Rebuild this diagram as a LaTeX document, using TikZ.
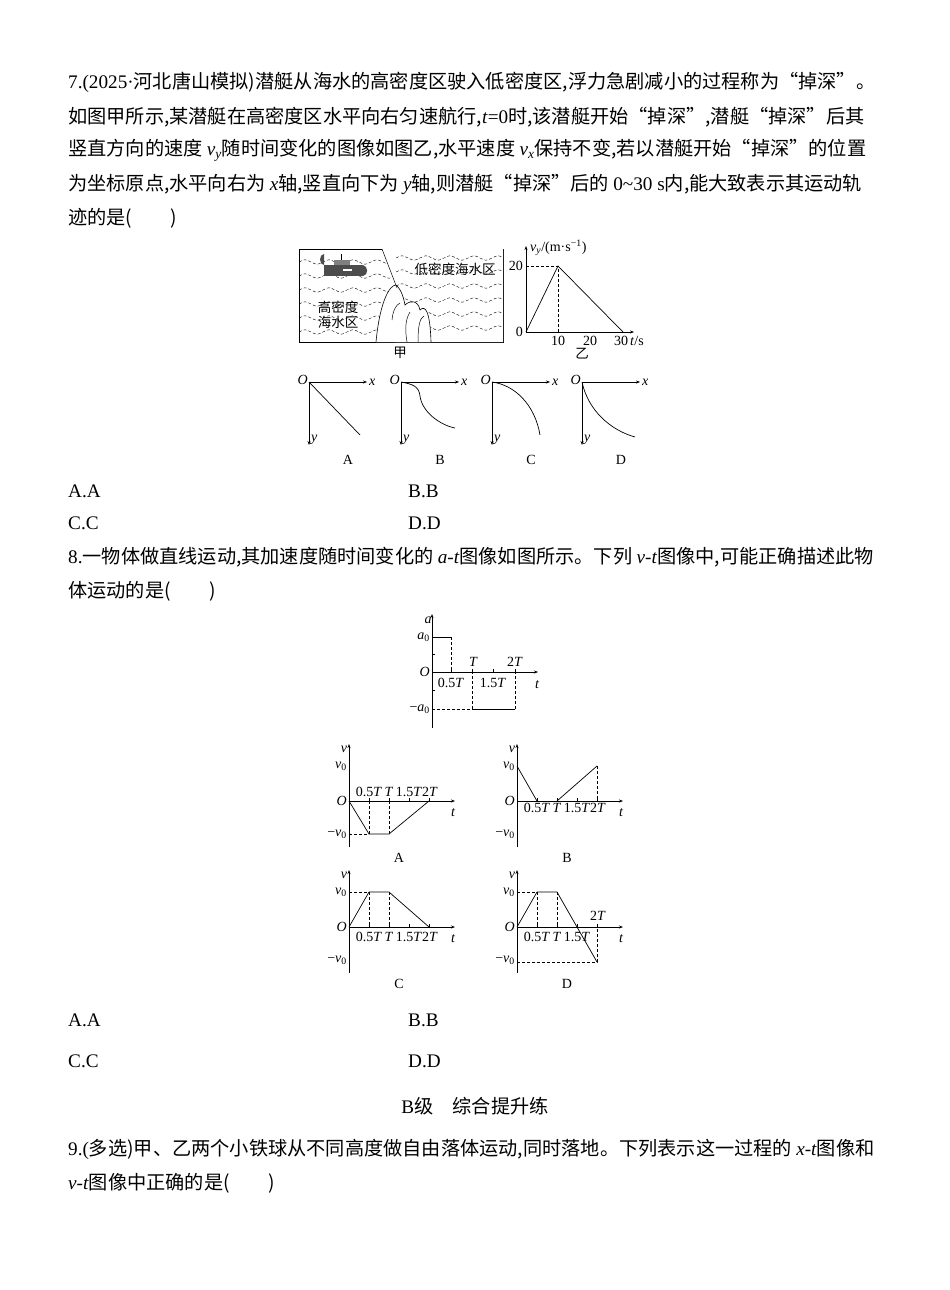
\documentclass[tikz,border=0pt]{standalone}
\usepackage{fontspec}
\setmainfont{Liberation Serif}
\newfontfamily\cjk{Noto Sans CJK SC}
\usetikzlibrary{arrows.meta}
\newcommand{\vv}[1]{\textit{v}\textsubscript{\textit{#1}}}
\begin{document}
\begin{tikzpicture}[x=1pt,y=-1pt,
  txt/.style={anchor=west,inner sep=0pt,font=\fontsize{19.2}{21}\selectfont},
  lab/.style={inner sep=0pt,font=\fontsize{14}{15}\selectfont},
  itl/.style={inner sep=0pt,font=\itshape\fontsize{14}{15}\selectfont},
  ax/.style={line width=0.6pt,-{Stealth[length=4pt,width=3pt]}},
  crv/.style={line width=0.7pt},
  dsh/.style={dashed,line width=0.5pt,dash pattern=on 3pt off 2pt}]
\useasboundingbox[fill=white] (0,0) rectangle (950,1290);
% text
\node[txt] (l1) at (68,82) {7.(2025·{\cjk 河北唐山模拟)潜艇从海水的高密度区驶入低密度区,浮力急剧减小的过程称为“掉深”。}};
\node[txt] (l2) at (68,117) {{\cjk 如图甲所示,某潜艇在高密度区水平向右匀速航行,}\textit{t}=0{\cjk 时,该潜艇开始“掉深”,潜艇“掉深”后其}};
\node[txt] (l3) at (68,150) {{\cjk 竖直方向的速度 }\vv{y}{\cjk 随时间变化的图像如图乙,水平速度 }\vv{x}{\cjk 保持不变,若以潜艇开始“掉深”的位置}};
\node[txt] (l4) at (68,184) {{\cjk 为坐标原点,水平向右为 }\textit{x}{\cjk 轴,竖直向下为 }\textit{y}{\cjk 轴,则潜艇“掉深”后的 }0\textasciitilde30 s{\cjk 内,能大致表示其运动轨}};
\node[txt] (l5) at (68,218) {\cjk 迹的是(　　)};
\node[txt] (oA1) at (68,491) {A.A};
\node[txt] (oB1) at (408,491) {B.B};
\node[txt] (oC1) at (68,523) {C.C};
\node[txt] (oD1) at (408,523) {D.D};
\node[txt] (l8) at (68,557) {8.{\cjk 一物体做直线运动,其加速度随时间变化的 }\textit{a-t}{\cjk 图像如图所示。下列 }\textit{v-t}{\cjk 图像中,可能正确描述此物}};
\node[txt] (l8b) at (68,591) {\cjk 体运动的是(　　)};
\node[txt] (oA2) at (68,1020) {A.A};
\node[txt] (oB2) at (408,1020) {B.B};
\node[txt] (oC2) at (68,1061) {C.C};
\node[txt] (oD2) at (408,1061) {D.D};
\node[txt,anchor=center] (sec) at (475,1106) {B{\cjk 级　综合提升练}};
\node[txt] (l9) at (68,1149) {9.({\cjk 多选)甲、乙两个小铁球从不同高度做自由落体运动,同时落地。下列表示这一过程的 }\textit{x-t}{\cjk 图像和}};
\node[txt] (l9b) at (68,1183) {\textit{v-t}{\cjk 图像中正确的是(　　)}};
% figure 甲
\draw[line width=0.7pt] (299,249) rectangle (503,342);
\begin{scope}
\clip (299,249) rectangle (503,342);
\foreach \y in {262,276,290,304,318,332}{
  \draw[dsh,line width=0.4pt] (299,\y) \foreach \k in {0,...,9}{ .. controls +(6,-3) and +(-6,-3) .. ++(12,0) .. controls +(6,3) and +(-6,3) .. ++(12,0)};}
\fill[white] (382,249) -- (503,249) -- (503,342) -- (395,342) -- (397,292) -- cycle;
\foreach \y in {258,272,286,300,314,328}{
  \draw[dsh,line width=0.4pt] (396,\y) \foreach \k in {0,...,6}{ .. controls +(6,-3) and +(-6,-3) .. ++(12,0) .. controls +(6,3) and +(-6,3) .. ++(12,0)};}
\fill[white] (376,342) .. controls (380,300) and (390,285) .. (396,285) .. controls (402,290) and (404,300) .. (405,305) .. controls (410,300) and (418,300) .. (420,310) .. controls (425,305) and (430,310) .. (431,342) -- cycle;
\draw[line width=0.6pt] (376,342) .. controls (380,300) and (390,285) .. (396,285) .. controls (402,290) and (404,300) .. (405,305) .. controls (410,300) and (418,300) .. (420,310) .. controls (425,305) and (430,310) .. (431,342);
\draw[line width=0.5pt] (392,320) .. controls (393,310) and (396,305) .. (400,303);
\draw[line width=0.5pt] (418,342) .. controls (418,325) and (420,318) .. (424,316);
\draw[line width=0.5pt] (407,342) .. controls (405,330) and (405,320) .. (410,312);
\draw[line width=0.5pt] (382,249) -- (397,288);
\end{scope}
\fill[black!70] (324,265) rectangle (363,276);
\fill[black!70] (363,265) .. controls (368,266) and (369,275) .. (363,276) -- cycle;
\fill[black!70] (324,265) arc (90:270:4 and 5.5);
\fill[black!50] (334,260) rectangle (350,265);
\draw[line width=0.8pt] (341,254) -- (341,260);
\fill[white] (343,269) rectangle (352,271);
\node[lab,font=\cjk\fontsize{13.5}{15}\selectfont] (ld) at (455,269) {低密度海水区};
\node[lab,font=\cjk\fontsize{13.5}{15}\selectfont,align=left] (hd) at (338,315) {高密度\\海水区};
\node[lab,font=\cjk\fontsize{13.5}{15}\selectfont] (jia) at (400,353) {甲};
% graph 乙
\coordinate (yo) at (526,332);
\draw[ax] (yo) -- (526,246);
\draw[ax] (yo) -- (634,332);
\draw[dsh] (526,266) -- (558,266) -- (558,332);
\draw[crv] (yo) -- (558,266) -- (623,332);
\node[lab,anchor=west] (vyl) at (530,248) {\vv{y}/(m·s\textsuperscript{−1})};
\node[lab,anchor=east] (y20) at (523,266) {20};
\node[lab,anchor=east] (y0) at (523,332) {0};
\node[lab] (t10) at (558,341) {10};
\node[lab] (t20) at (590,341) {20};
\node[lab] (t30) at (621,341) {30};
\node[lab,anchor=west] (tsl) at (630,341) {\textit{t}/s};
\node[lab,font=\cjk\fontsize{13.5}{15}\selectfont] (yi) at (582,354) {乙};
% trajectory graphs
\foreach \ox/\nm in {309/A,401/B,492/C,582/D}{
  \draw[ax] (\ox,382) -- (\ox+58,382);
  \draw[ax] (\ox,382) -- (\ox,445);
  \node[itl,anchor=east] at (\ox-1,380) {O};
  \node[itl,anchor=west] at (\ox+60,382) {x};
  \node[itl,anchor=west] at (\ox+2,440) {y};
  \node[lab] at (\ox+39,460) {\nm};
}
\draw[crv] (309,382) -- (360,435);
\draw[crv] (401,382) .. controls (412,384) and (419,386) .. (420,396) .. controls (422,412) and (440,425) .. (455,428);
\draw[crv] (492,382) .. controls (515,385) and (535,405) .. (540,435);
\draw[crv] (582,382) .. controls (588,410) and (610,430) .. (635,437);
% a-t graph
\draw[ax] (432,728) -- (432,614);
\draw[ax] (432,672) -- (538,672);
\foreach \x in {451,472,493,515}{\draw[line width=0.5pt] (\x,672) -- (\x,669);}
\foreach \y in {654,690}{\draw[line width=0.5pt] (432,\y) -- (435,\y);}
\draw[crv] (432,637) -- (451,637);
\draw[dsh] (451,637) -- (451,672);
\draw[crv] (472,709) -- (515,709);
\draw[dsh] (432,709) -- (472,709) -- (472,672);
\draw[dsh] (515,709) -- (515,672);
\node[itl] (al) at (428,620) {a};
\node[lab,anchor=east] (a0) at (430,637) {\textit{a}\textsubscript{0}};
\node[lab,anchor=east] (ma0) at (430,709) {−\textit{a}\textsubscript{0}};
\node[itl,anchor=east] (ao) at (430,672) {O};
\node[itl] (aT) at (473,662) {T};
\node[lab] (a2T) at (515,662) {2\textit{T}};
\node[lab] (a05) at (451,683) {0.5\textit{T}};
\node[lab] (a15) at (493,683) {1.5\textit{T}};
\node[itl] (at) at (537,685) {t};
% v-t graphs
\foreach \ox/\oy/\nm in {349/801/A,517/801/B,349/927/C,517/927/D}{
  \begin{scope}[shift={(\ox,\oy)}]
  \draw[ax] (0,46) -- (0,-57);
  \draw[ax] (0,0) -- (106,0);
  \foreach \x in {20,40,60,80}{\draw[line width=0.5pt] (\x,0) -- (\x,-3);}
  \node[itl] at (-5,-52) {v};
  \node[lab,anchor=east] at (-2,-35) {\textit{v}\textsubscript{0}};
  \node[lab,anchor=east] at (-2,33) {−\textit{v}\textsubscript{0}};
  \node[itl,anchor=east] at (-2,0) {O};
  \node[itl] at (104,12) {t};
  \node[lab] at (50,57) {\nm};
  \end{scope}
}
% A
\foreach \x/\t in {369/0.5\textit{T},389/\textit{T},409/1.5\textit{T},430/2\textit{T}}{\node[lab] at (\x,792) {\t};}
\draw[dsh] (349,834) -- (369,834);
\draw[dsh] (369,801) -- (369,834);
\draw[dsh] (389,801) -- (389,834);
\draw[crv] (349,801) -- (369,834) -- (389,834) -- (429,801);
% B
\foreach \x/\t in {537/0.5\textit{T},557/\textit{T},577/1.5\textit{T},598/2\textit{T}}{\node[lab] at (\x,808) {\t};}
\draw[dsh] (597,766) -- (597,801);
\draw[crv] (517,766) -- (537,801);
\draw[crv] (557,801) -- (597,766);
% C
\foreach \x/\t in {369/0.5\textit{T},389/\textit{T},409/1.5\textit{T},430/2\textit{T}}{\node[lab] at (\x,937) {\t};}
\draw[dsh] (349,892) -- (369,892);
\draw[dsh] (369,892) -- (369,927);
\draw[dsh] (389,892) -- (389,927);
\draw[crv] (349,927) -- (369,892) -- (389,892) -- (429,927);
% D
\foreach \x/\t in {537/0.5\textit{T},557/\textit{T},577/1.5\textit{T}}{\node[lab] at (\x,937) {\t};}
\node[lab] at (598,916) {2\textit{T}};
\draw[dsh] (517,892) -- (537,892);
\draw[dsh] (537,892) -- (537,927);
\draw[dsh] (557,892) -- (557,927);
\draw[dsh] (517,962) -- (597,962) -- (597,927);
\draw[crv] (517,927) -- (537,892) -- (557,892) -- (597,962);
\end{tikzpicture}
\end{document}
